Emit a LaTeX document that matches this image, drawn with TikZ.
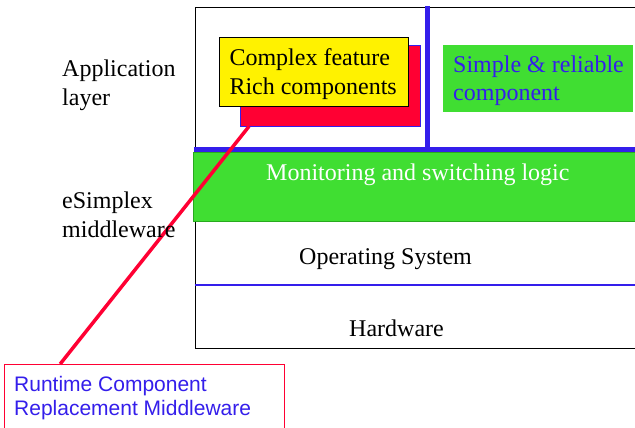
\documentclass[tikz,border=0pt]{standalone}
\usepackage{fontspec}
\setmainfont{Liberation Serif}
\newfontfamily\arialfont{Liberation Sans}
\usetikzlibrary{calc}
\definecolor{lime}{RGB}{64,222,50}
\definecolor{limeedge}{RGB}{40,170,30}
\definecolor{deepblue}{RGB}{52,30,235}
\definecolor{hotred}{RGB}{255,0,51}
\tikzset{
  serif/.style={inner sep=0pt, align=left, font=\fontsize{24bp}{28.6bp}\selectfont},
  sans/.style={inner sep=0pt, align=left, font=\arialfont\fontsize{21bp}{23.4bp}\selectfont, text=deepblue},
  panel/.style={draw, anchor=north west, inner sep=0pt, line width=0.8bp},
}
\begin{document}
\begin{tikzpicture}[x=1bp,y=-1bp]
\useasboundingbox (0,0) rectangle (635,427);
\clip (0,0) rectangle (635,427);
% outer frame of the layer stack
\node[panel, fill=white, minimum width=460bp, minimum height=341bp] (stack) at (194.5,7) {};
% middleware band
\node[panel, fill=lime, draw=limeedge, minimum width=460bp, minimum height=69bp] (band) at (193,152) {};
% separators
\coordinate (hl) at (194,149.5);
\coordinate (hr) at (650,149.5);
\draw[deepblue, line width=5bp] (hl) -- (hr);
\coordinate (vt) at (427,6);
\coordinate (vb) at (427,149.5);
\draw[deepblue, line width=5bp] (vt) -- (vb);
\coordinate (ol) at (194.5,285);
\coordinate (or) at (650,285);
\draw[deepblue, line width=1.2bp] (ol) -- (or);
% application components
\node[panel, fill=hotred, draw=deepblue, minimum width=180bp, minimum height=80.5bp] (rich) at (240,45) {};
\node[panel, fill=yellow, draw=black, minimum width=188.5bp, minimum height=69bp] (cf) at (219,37) {};
\node[panel, fill=lime, draw=none, minimum width=190bp, minimum height=67bp] (simple) at (443,45) {};
% runtime replacement box
\node[panel, fill=white, draw=hotred, minimum width=280bp, minimum height=80bp] (rtcr) at (4,364) {};
% connector
\draw[hotred, line width=3.5bp]
  ($(rich.south west)!0.05!(rich.south east)$) -- ($(rtcr.north west)!0.2!(rtcr.north east)$);
% labels (base anchor sits on the last line)
\node[serif, anchor=base west] (app) at (62,105.5) {Application\\layer};
\node[serif, anchor=base west] (mw) at (62,237) {eSimplex\\middleware};
\node[serif, anchor=base west] (cftext) at (229.3,94) {Complex feature\\Rich components};
\node[serif, anchor=base west, text=deepblue] (simpletext) at (453,100.7) {Simple \& reliable\\component};
\node[serif, anchor=base west, text=white] (bandtext) at (266,180) {Monitoring and switching logic};
\node[serif, anchor=base west] (ostext) at (299,264) {Operating System};
\node[serif, anchor=base west] (hwtext) at (349,336.7) {Hardware};
\node[sans, anchor=base west] (rtcrtext) at (14,415) {Runtime Component\\Replacement Middleware};
\end{tikzpicture}
\end{document}
